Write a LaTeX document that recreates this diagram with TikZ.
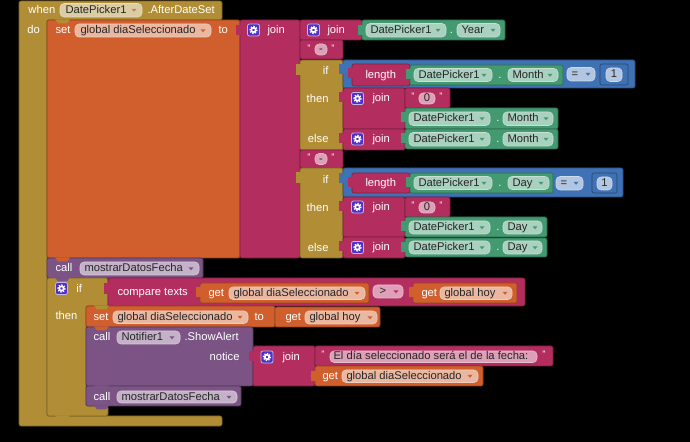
\documentclass[tikz,border=0pt]{standalone}
\usepackage{fontspec}
\setmainfont{Liberation Sans}
\definecolor{ctrl}{RGB}{177,142,53}
\definecolor{vars}{RGB}{208,95,45}
\definecolor{txt}{RGB}{179,45,94}
\definecolor{comp}{RGB}{67,153,112}
\definecolor{mth}{RGB}{63,113,181}
\definecolor{proc}{RGB}{124,83,133}
\definecolor{gearbg}{RGB}{78,48,200}
\tikzset{
blk/.style={rounded corners=1.5pt, line width=0.5pt},
fld/.style={rounded corners=3pt, line width=0.4pt},
lbl/.style={anchor=west, inner sep=0.75pt, text height=6.2pt, text depth=1.6pt, text=white, font=\fontsize{8.4}{10}\selectfont},
ftx/.style={anchor=west, inner sep=0.75pt, text height=6.2pt, text depth=1.6pt, text=black!85, font=\fontsize{8.4}{10}\selectfont},
qt/.style={inner sep=0pt, text=white, font=\fontsize{7}{8}\selectfont}}
\tikzset{every picture/.style={line width=0.75pt}}

\begin{document}
\begin{tikzpicture}[x=0.75pt,y=0.75pt,yscale=-1,xscale=1]
\useasboundingbox (0,0) rectangle (690,442);
\fill[black] (0,0) rectangle (690,442);

%Shape: Event block
\draw[blk, fill=ctrl, draw=ctrl!70!black] (19,1) -- (222,1) -- (222,20) -- (47,20) -- (47,416) -- (222,416) -- (222,426) -- (19,426) -- cycle;
%Shape: set block
\draw[blk, fill=vars, draw=vars!70!black] (47,20) rectangle (240,258);
%Shape: outer join
\draw[blk, fill=txt, draw=txt!70!black] (240,20) rectangle (300,258);
\fill[txt] (236,25) rectangle (241,35);
%Shape: inner join
\draw[blk, fill=txt, draw=txt!70!black] (300,20) rectangle (362,40);
%Shape: Year getter
\draw[blk, fill=comp, draw=comp!70!black] (362,20) rectangle (505,40);
\fill[comp] (358,25) rectangle (363,35);
%Shape: dash string 1
\draw[blk, fill=txt, draw=txt!70!black] (300,40) rectangle (343,59);

%Shape: if 1
\draw[blk, fill=ctrl, draw=ctrl!70!black] (300,60) rectangle (343,150);
\fill[ctrl] (296,64) rectangle (301,75);
%Shape: compare 1
\draw[blk, fill=mth, draw=mth!70!black] (343,60) rectangle (635,88);
\fill[mth] (339,64) rectangle (344,74);
\draw[blk, fill=txt, draw=txt!70!black] (352,64) rectangle (410,86);
\fill[txt] (348,68) rectangle (353,78);
\draw[blk, fill=comp, draw=comp!70!black] (410,65) rectangle (563,85);
\fill[comp] (406,69) rectangle (411,79);
\draw[blk, fill=mth, draw=mth!60!black] (600,64) rectangle (628,85);
%Shape: then 1
\draw[blk, fill=txt, draw=txt!70!black] (343,88) rectangle (405,129);
\fill[txt] (339,92) rectangle (344,102);
\draw[blk, fill=txt, draw=txt!70!black] (405,88) rectangle (450,108);
\draw[blk, fill=comp, draw=comp!70!black] (405,108) rectangle (558,129);
\fill[comp] (401,112) rectangle (406,122);
%Shape: else 1
\draw[blk, fill=txt, draw=txt!70!black] (343,129) rectangle (405,150);
\fill[txt] (339,133) rectangle (344,143);
\draw[blk, fill=comp, draw=comp!70!black] (405,129) rectangle (558,149);
\fill[comp] (401,133) rectangle (406,143);

%Shape: dash string 2
\draw[blk, fill=txt, draw=txt!70!black] (300,150) rectangle (343,168);
%Shape: if 2
\draw[blk, fill=ctrl, draw=ctrl!70!black] (300,168) rectangle (343,258);
\fill[ctrl] (296,172) rectangle (301,183);
%Shape: compare 2
\draw[blk, fill=mth, draw=mth!70!black] (343,168) rectangle (623,197);
\fill[mth] (339,173) rectangle (344,183);
\draw[blk, fill=txt, draw=txt!70!black] (352,173) rectangle (410,193);
\fill[txt] (348,177) rectangle (353,187);
\draw[blk, fill=comp, draw=comp!70!black] (410,173) rectangle (553,193);
\fill[comp] (406,177) rectangle (411,187);
\draw[blk, fill=mth, draw=mth!60!black] (592,173) rectangle (617,193);
%Shape: then 2
\draw[blk, fill=txt, draw=txt!70!black] (343,197) rectangle (405,237);
\fill[txt] (339,201) rectangle (344,211);
\draw[blk, fill=txt, draw=txt!70!black] (405,197) rectangle (450,217);
\draw[blk, fill=comp, draw=comp!70!black] (405,217) rectangle (547,237);
\fill[comp] (401,221) rectangle (406,231);
%Shape: else 2
\draw[blk, fill=txt, draw=txt!70!black] (343,237) rectangle (405,258);
\fill[txt] (339,241) rectangle (344,251);
\draw[blk, fill=comp, draw=comp!70!black] (405,238) rectangle (547,257);
\fill[comp] (401,242) rectangle (406,252);

%Shape: call 1
\draw[blk, fill=proc, draw=proc!70!black] (47,258) rectangle (203,278);
%Shape: if block
\draw[blk, fill=ctrl, draw=ctrl!70!black] (47,278) -- (108,278) -- (108,306) -- (86,306) -- (86,406) -- (108,406) -- (108,416) -- (47,416) -- cycle;
%Shape: compare texts
\draw[blk, fill=txt, draw=txt!70!black] (108,278) rectangle (525,306);
\fill[txt] (104,283) rectangle (109,294);
\draw[blk, fill=vars, draw=vars!70!black] (200,283) rectangle (369,303);
\fill[vars] (196,287) rectangle (201,297);
\draw[blk, fill=vars, draw=vars!70!black] (413,283) rectangle (517,303);
\fill[vars] (409,287) rectangle (414,297);
%Shape: set 2
\draw[blk, fill=vars, draw=vars!70!black] (86,306) rectangle (275,327);
\draw[blk, fill=vars, draw=vars!70!black] (275,307) rectangle (380,327);
%Shape: ShowAlert
\draw[blk, fill=proc, draw=proc!70!black] (86,327) rectangle (253,386);
\draw[blk, fill=txt, draw=txt!70!black] (253,346) rectangle (315,386);
\fill[txt] (249,351) rectangle (254,361);
\draw[blk, fill=txt, draw=txt!70!black] (315,346) rectangle (553,366);
\draw[blk, fill=vars, draw=vars!70!black] (315,366) rectangle (483,386);
\fill[vars] (311,371) rectangle (316,381);
%Shape: call 2
\draw[blk, fill=proc, draw=proc!70!black] (86,386) rectangle (241,406);

%Shape: notches
\foreach \bx/\by/\bc in {55/20/ctrl, 55/258/vars, 55/278/proc, 94/306/ctrl, 94/327/vars, 94/386/proc, 94/406/proc, 55/416/ctrl}
  \fill[\bc] (\bx,\by-0.5) -- (\bx+15,\by-0.5) -- (\bx+12,\by+3.5) -- (\bx+3,\by+3.5) -- cycle;

%Shape: fields
\draw[fld, fill=ctrl!45!white, draw=ctrl!30!white] (60,3.5) rectangle (142,17);
\draw[fld, fill=vars!45!white, draw=vars!30!white] (75,24) rectangle (211,37);
\draw[fld, fill=comp!45!white, draw=comp!30!white] (366,23.5) rectangle (446,37);
\draw[fld, fill=comp!45!white, draw=comp!30!white] (457,23.5) rectangle (500,37);
\draw[fld, fill=txt!45!white, draw=txt!30!white] (315,44) rectangle (327,55);
\draw[fld, fill=comp!45!white, draw=comp!30!white] (414,68.5) rectangle (492,81.5);
\draw[fld, fill=comp!45!white, draw=comp!30!white] (508,68.5) rectangle (558,81.5);
\draw[fld, fill=mth!40!white, draw=mth!25!white] (567,67.5) rectangle (595,81);
\draw[fld, fill=mth!40!white, draw=mth!25!white] (606,68) rectangle (622,81.5);
\draw[fld, fill=txt!45!white, draw=txt!30!white] (419,93) rectangle (435,104);
\draw[fld, fill=comp!45!white, draw=comp!30!white] (409,112) rectangle (490,125.5);
\draw[fld, fill=comp!45!white, draw=comp!30!white] (503,112) rectangle (553,125.5);
\draw[fld, fill=comp!45!white, draw=comp!30!white] (409,132.5) rectangle (490,146);
\draw[fld, fill=comp!45!white, draw=comp!30!white] (503,132.5) rectangle (553,146);
\draw[fld, fill=txt!45!white, draw=txt!30!white] (315,153.5) rectangle (327,164.5);
\draw[fld, fill=comp!45!white, draw=comp!30!white] (414,176.5) rectangle (492,189.5);
\draw[fld, fill=comp!45!white, draw=comp!30!white] (508,176.5) rectangle (549,189.5);
\draw[fld, fill=mth!40!white, draw=mth!25!white] (556,176.5) rectangle (583,190);
\draw[fld, fill=mth!40!white, draw=mth!25!white] (597,177) rectangle (612,190);
\draw[fld, fill=txt!45!white, draw=txt!30!white] (419,202) rectangle (435,213);
\draw[fld, fill=comp!45!white, draw=comp!30!white] (409,221) rectangle (490,234);
\draw[fld, fill=comp!45!white, draw=comp!30!white] (503,221) rectangle (542,234);
\draw[fld, fill=comp!45!white, draw=comp!30!white] (409,241) rectangle (490,254);
\draw[fld, fill=comp!45!white, draw=comp!30!white] (503,241) rectangle (542,254);
\draw[fld, fill=proc!45!white, draw=proc!30!white] (80,262) rectangle (199,275);
\draw[fld, fill=vars!45!white, draw=vars!30!white] (229,287) rectangle (365,299.5);
\draw[fld, fill=txt!45!white, draw=txt!30!white] (373,285) rectangle (403,298);
\draw[fld, fill=vars!45!white, draw=vars!30!white] (440,287) rectangle (512,299.5);
\draw[fld, fill=vars!45!white, draw=vars!30!white] (113,311) rectangle (248,323.5);
\draw[fld, fill=vars!45!white, draw=vars!30!white] (305,311) rectangle (377,324);
\draw[fld, fill=proc!45!white, draw=proc!30!white] (117,331) rectangle (180,344);
\draw[fld, fill=txt!45!white, draw=txt!30!white] (330,351) rectangle (537,362.5);
\draw[fld, fill=vars!45!white, draw=vars!30!white] (342,370) rectangle (478,382.5);
\draw[fld, fill=proc!45!white, draw=proc!30!white] (117,391) rectangle (237,403);

%Shape: dropdown arrows
\foreach \ax/\ay/\ac in {134/10/ctrl, 203/30.5/vars, 438/30/comp, 493/30/comp, 484/75/comp, 550/75/comp, 588/74/mth,
  482/118.5/comp, 546/118.5/comp, 482/139/comp, 546/139/comp, 484/183/comp, 541/183/comp, 576/183/mth,
  482/227.5/comp, 535/227.5/comp, 482/247.5/comp, 535/247.5/comp, 191/268.5/proc, 357/293/vars, 396/291.5/txt,
  505/293/vars, 240/317/vars, 370/317.5/vars, 172/337.5/proc, 470/376/vars, 229/397/proc}
  \fill[\ac] (\ax-2.5,\ay-1.2) -- (\ax+2.5,\ay-1.2) -- (\ax,\ay+1.8) -- cycle;

%Shape: mutator icons
\foreach \gx/\gy in {253.5/30, 313.5/30, 357.5/98.5, 357.5/139, 357.5/207, 357.5/247.5, 61.5/288.5, 267/357} {
  \draw[fill=gearbg, draw=white!65!gearbg, rounded corners=1.5pt, line width=0.6pt] (\gx-6,\gy-6) rectangle (\gx+6,\gy+6);
  \draw[white, line width=1.2pt] (\gx,\gy) circle (2.2);
  \draw[white, line width=1pt, dash pattern=on 1pt off 1pt] (\gx,\gy) circle (3.5);
}

% Text Node
\node[lbl] (when) at (27,10) {when};
\node[ftx] (dpEvt) at (64,10) {DatePicker1};
\node[lbl] (afterSet) at (146,10) {.AfterDateSet};
\node[lbl] (doLbl) at (26,30) {do};
\node[lbl] (set1) at (54,30.5) {set};
\node[ftx] (var1) at (79,30.5) {global diaSeleccionado};
\node[lbl] (to1) at (217,30.5) {to};
\node[lbl] (joinA) at (266,30) {join};
\node[lbl] (joinB) at (326,30) {join};
\node[ftx] (dpYear) at (369,30) {DatePicker1};
\node[lbl, anchor=center] (dotYear) at (451.5,30) {.};
\node[ftx] (year) at (460,30) {Year};
% Text Node
\node[qt] (qa1) at (309,48) {"};
\node[ftx, anchor=center] (dash1) at (321,49.5) {-};
\node[qt] (qa2) at (333,48) {"};
\node[lbl, anchor=east] (if1) at (330,71) {if};
\node[lbl] (len1) at (364,75) {length};
\node[ftx] (dpMonth1) at (417,75) {DatePicker1};
\node[lbl, anchor=center] (dotMonth1) at (500,75) {.};
\node[ftx] (month1) at (511,75) {Month};
\node[ftx] (eq1) at (570,74) {=};
\node[ftx, anchor=center] (one1) at (614,74.5) {1};
\node[lbl, anchor=east] (then1) at (330,99) {then};
\node[lbl] (joinC) at (371,98.5) {join};
\node[qt] (qb1) at (413,96) {"};
\node[ftx, anchor=center] (zero1) at (427,98.5) {0};
\node[qt] (qb2) at (441,96) {"};
\node[ftx] (dpMonth2) at (412,118.5) {DatePicker1};
\node[lbl, anchor=center] (dotMonth2) at (498,118.5) {.};
\node[ftx] (month2) at (506,118.5) {Month};
\node[lbl, anchor=east] (else1) at (330,139) {else};
\node[lbl] (joinD) at (371,139) {join};
\node[ftx] (dpMonth3) at (412,139) {DatePicker1};
\node[lbl, anchor=center] (dotMonth3) at (498,139) {.};
\node[ftx] (month3) at (506,139) {Month};
% Text Node
\node[qt] (qc1) at (309,157.5) {"};
\node[ftx, anchor=center] (dash2) at (321,159) {-};
\node[qt] (qc2) at (333,157.5) {"};
\node[lbl, anchor=east] (if2) at (330,180) {if};
\node[lbl] (len2) at (364,183) {length};
\node[ftx] (dpDay1) at (417,183) {DatePicker1};
\node[lbl, anchor=center] (dotDay1) at (500,183) {.};
\node[ftx] (day1) at (511,183) {Day};
\node[ftx] (eq2) at (559,183) {=};
\node[ftx, anchor=center] (one2) at (604.5,183.5) {1};
\node[lbl, anchor=east] (then2) at (330,208) {then};
\node[lbl] (joinE) at (371,207) {join};
\node[qt] (qd1) at (413,205) {"};
\node[ftx, anchor=center] (zero2) at (427,207.5) {0};
\node[qt] (qd2) at (441,205) {"};
\node[ftx] (dpDay2) at (412,227.5) {DatePicker1};
\node[lbl, anchor=center] (dotDay2) at (498,227.5) {.};
\node[ftx] (day2) at (506,227.5) {Day};
\node[lbl, anchor=east] (else2) at (330,248) {else};
\node[lbl] (joinF) at (371,247.5) {join};
\node[ftx] (dpDay3) at (412,247.5) {DatePicker1};
\node[lbl, anchor=center] (dotDay3) at (498,247.5) {.};
\node[ftx] (day3) at (506,247.5) {Day};
% Text Node
\node[lbl] (call1) at (54,268.5) {call};
\node[ftx] (proc1) at (83,268.5) {mostrarDatosFecha};
\node[lbl] (ifLow) at (75,289) {if};
\node[lbl] (cmpTxt) at (116,292) {compare texts};
\node[lbl] (get1) at (207,293) {get};
\node[ftx] (var2) at (232,293) {global diaSeleccionado};
\node[ftx] (gt) at (378,291.5) {>};
\node[lbl] (get2) at (420,293) {get};
\node[ftx] (hoy1) at (443,293) {global hoy};
\node[lbl] (thenLow) at (54,316) {then};
\node[lbl] (set2) at (92,317) {set};
\node[ftx] (var3) at (116,317) {global diaSeleccionado};
\node[lbl] (to2) at (253,317) {to};
\node[lbl] (get3) at (284,317.5) {get};
\node[ftx] (hoy2) at (308,317.5) {global hoy};
\node[lbl] (call2) at (92,337.5) {call};
\node[ftx] (notif) at (120,337.5) {Notifier1};
\node[lbl] (showAl) at (183,337.5) {.ShowAlert};
\node[lbl, anchor=east] (notice) at (241,357) {notice};
\node[lbl] (joinG) at (281,357) {join};
\node[qt] (qe1) at (323,354) {"};
\node[ftx] (msg) at (332,356.5) {El día seleccionado será el de la fecha:};
\node[qt] (qe2) at (544,354) {"};
\node[lbl] (get4) at (321,376) {get};
\node[ftx] (var4) at (345,376) {global diaSeleccionado};
\node[lbl] (call3) at (92,397) {call};
\node[ftx] (proc2) at (120,397) {mostrarDatosFecha};

\end{tikzpicture}
\end{document}
